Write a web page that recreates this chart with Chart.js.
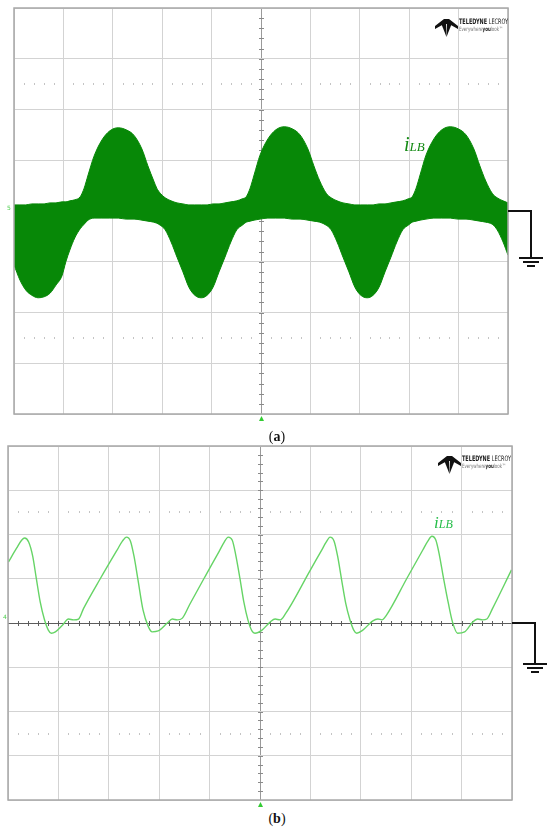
<!DOCTYPE html>
<html>
<head>
<meta charset="utf-8">
<script src="https://cdn.jsdelivr.net/npm/chart.js@4.4.0/dist/chart.umd.min.js"></script>
<style>
  html, body { margin: 0; padding: 0; background: #fff; }
  body { width: 550px; height: 828px; position: relative; overflow: hidden; }
  canvas { position: absolute; left: 0; }
  #chartA { top: 0; width: 550px; height: 422px; }
  #chartB { top: 440px; width: 550px; height: 370px; }
  .abs { position: absolute; white-space: nowrap; line-height: 1; }
  .lbl { font-family: 'Liberation Serif', 'DejaVu Serif', serif; font-style: italic; }
  .cap { font-family: 'Liberation Serif', 'DejaVu Serif', serif; font-size: 14px; color: #111; width: 60px; text-align: center; }
  .brand { font-family: 'Liberation Sans Narrow', 'DejaVu Sans Condensed', sans-serif; font-size: 7.5px; color: #1a1a1a; display: inline-block; transform-origin: left top; }
  .tag { font-family: 'Liberation Sans Narrow', 'DejaVu Sans Condensed', sans-serif; font-size: 6px; color: #777; display: inline-block; transform-origin: left top; }
  .tag b { color: #222; }
  .chm { font-family: 'DejaVu Sans', sans-serif; font-size: 6px; color: #4fcf4f; }
</style>
</head>
<body>
<canvas id="chartA" width="550" height="422"></canvas>
<canvas id="chartB" width="550" height="370"></canvas>

<!-- panel (a) texts -->
<div class="abs lbl" style="left:404px;top:134px;color:#138a13;"><span style="font-size:20px">i</span><span style="font-size:13px">LB</span></div>
<svg class="abs" style="left:435px;top:18px" width="23" height="20" viewBox="0 0 23 20">
  <path d="M0 8 L9 1 L14 1 L23 8 L23 11 L14 6 L9 6 L0 11 Z" fill="#111"/>
  <path d="M6 5 L11 5 L11.5 19 Z" fill="#111"/>
  <path d="M17 5 L12 5 L11.5 19 Z" fill="#111"/>
</svg>
<div class="abs brand" data-fit="49" style="left:459px;top:18px;"><b>TELEDYNE</b> LECROY</div>
<div class="abs tag" data-fit="44" style="left:459px;top:25.5px;">Everywhere<b>you</b>look™</div>
<div class="abs chm" style="left:7px;top:205px;">5</div>
<div class="abs cap" style="left:247px;top:430px;">(<b>a</b>)</div>

<!-- panel (b) texts -->
<div class="abs lbl" style="left:434px;top:514px;color:#24bd48;"><span style="font-size:17px">i</span><span style="font-size:12px">LB</span></div>
<svg class="abs" style="left:438px;top:455px" width="23" height="20" viewBox="0 0 23 20">
  <path d="M0 8 L9 1 L14 1 L23 8 L23 11 L14 6 L9 6 L0 11 Z" fill="#111"/>
  <path d="M6 5 L11 5 L11.5 19 Z" fill="#111"/>
  <path d="M17 5 L12 5 L11.5 19 Z" fill="#111"/>
</svg>
<div class="abs brand" data-fit="49" style="left:462px;top:455px;"><b>TELEDYNE</b> LECROY</div>
<div class="abs tag" data-fit="44" style="left:462px;top:462.5px;">Everywhere<b>you</b>look™</div>
<div class="abs chm" style="left:3px;top:614px;">4</div>
<div class="abs cap" style="left:247px;top:812px;">(<b>b</b>)</div>

<script>
'use strict';

// (a) envelope of the switched inductor current, screen divisions (x 0..10, y -4..4)
const xA = [
  0.00, 0.12, 0.24, 0.36, 0.49, 0.61, 0.73, 0.85, 0.97, 1.05,
  1.13, 1.23, 1.34, 1.42, 1.50, 1.62, 1.78, 1.94, 2.11,
  2.27, 2.43, 2.59, 2.71, 2.83, 2.89, 2.96, 3.06,
  3.18, 3.30, 3.42, 3.54, 3.66, 3.79, 3.91, 4.03, 4.15, 4.27, 4.39, 4.51,
  4.62, 4.70, 4.78, 4.86, 4.98, 5.14, 5.30, 5.47,
  5.63, 5.79, 5.95, 6.07, 6.19, 6.32, 6.42,
  6.54, 6.66, 6.78, 6.90, 7.02, 7.15, 7.27, 7.39, 7.51, 7.63, 7.75, 7.87,
  7.98, 8.06, 8.14, 8.22, 8.34, 8.50, 8.66, 8.83,
  8.99, 9.15, 9.31, 9.43, 9.55, 9.68, 9.78, 9.90, 10.00,
];
const upperA = [
  0.12, 0.12, 0.12, 0.14, 0.14, 0.14, 0.16, 0.16, 0.18, 0.18,
  0.20, 0.22, 0.28, 0.45, 0.71, 1.08, 1.40, 1.58, 1.64,
  1.60, 1.49, 1.22, 0.89, 0.59, 0.45, 0.35, 0.26,
  0.20, 0.16, 0.14, 0.12, 0.12, 0.12, 0.12, 0.14, 0.14, 0.16, 0.18, 0.20,
  0.24, 0.28, 0.45, 0.71, 1.10, 1.42, 1.60, 1.66,
  1.62, 1.50, 1.22, 0.89, 0.59, 0.35, 0.26,
  0.20, 0.16, 0.14, 0.12, 0.12, 0.12, 0.12, 0.14, 0.14, 0.16, 0.18, 0.20,
  0.24, 0.28, 0.45, 0.71, 1.10, 1.42, 1.60, 1.66,
  1.62, 1.50, 1.22, 0.89, 0.59, 0.35, 0.26, 0.20, 0.16,
];
const lowerA = [
  -1.06, -1.36, -1.56, -1.66, -1.71, -1.69, -1.62, -1.46, -1.28, -1.00,
  -0.77, -0.53, -0.35, -0.26, -0.18, -0.14, -0.14, -0.14, -0.14,
  -0.16, -0.16, -0.18, -0.20, -0.22, -0.24, -0.28, -0.37,
  -0.61, -0.91, -1.20, -1.50, -1.66, -1.71, -1.66, -1.50, -1.20, -0.91, -0.61, -0.37,
  -0.28, -0.22, -0.20, -0.18, -0.16, -0.14, -0.14, -0.14,
  -0.16, -0.16, -0.18, -0.20, -0.22, -0.28, -0.37,
  -0.61, -0.91, -1.20, -1.50, -1.66, -1.71, -1.66, -1.50, -1.20, -0.91, -0.61, -0.37,
  -0.28, -0.22, -0.20, -0.18, -0.16, -0.14, -0.14, -0.14,
  -0.16, -0.16, -0.18, -0.20, -0.22, -0.26, -0.37, -0.61, -0.87,
];

// (b) filtered inductor current, screen divisions
const xB = [
  0.01, 0.17, 0.27, 0.33, 0.41, 0.49, 0.56, 0.64, 0.72, 0.80, 0.86, 0.94, 1.08, 1.20, 1.30, 1.40,
  1.50, 1.83, 2.17, 2.27, 2.35, 2.43, 2.50, 2.58, 2.68, 2.78, 2.86, 2.98, 3.16, 3.26, 3.36, 3.46,
  3.61, 3.91, 4.19, 4.29, 4.37, 4.45, 4.52, 4.60, 4.68, 4.76, 4.84, 4.90, 5.04, 5.20, 5.30, 5.40,
  5.50, 5.99, 6.23, 6.31, 6.39, 6.47, 6.54, 6.62, 6.70, 6.78, 6.86, 6.92, 7.04, 7.24, 7.34, 7.42,
  7.51, 7.91, 8.23, 8.33, 8.41, 8.49, 8.56, 8.64, 8.74, 8.82, 8.92, 9.06, 9.22, 9.32, 9.42, 9.50,
  9.61, 9.99,
];
const yB = [
  1.38, 1.69, 1.87, 1.92, 1.83, 1.51, 1.02, 0.47, 0.09, -0.16, -0.23, -0.20, -0.05, 0.09, 0.07, 0.09,
  0.33, 1.00, 1.66, 1.85, 1.94, 1.85, 1.51, 0.97, 0.29, -0.07, -0.20, -0.18, 0.00, 0.09, 0.07, 0.11,
  0.43, 1.05, 1.62, 1.83, 1.94, 1.87, 1.53, 1.02, 0.47, 0.07, -0.18, -0.23, -0.16, 0.02, 0.09, 0.07,
  0.20, 1.18, 1.66, 1.82, 1.94, 1.85, 1.51, 0.97, 0.45, 0.09, -0.16, -0.23, -0.16, 0.05, 0.09, 0.07,
  0.18, 1.00, 1.65, 1.85, 1.96, 1.87, 1.53, 1.02, 0.43, 0.02, -0.23, -0.20, 0.02, 0.09, 0.07, 0.09,
  0.32, 1.20,
];

const xDivs = 10;
const yDivs = 8;

const toPts = (xs, ys) => xs.map((x, i) => ({ x, y: ys[i] }));

// scope screen furniture: dotted rows, axis ticks, frame, ground symbol, trigger mark
const scopeDecor = {
  id: 'scopeDecor',
  beforeDatasetsDraw(chart, args, opts) {
    const { ctx, chartArea: area, scales: { x, y } } = chart;
    const cx = Math.round(x.getPixelForValue(xDivs / 2));
    const cy = Math.round(y.getPixelForValue(0)) + 0.5;
    ctx.save();
    ctx.fillStyle = '#c4c4c4';
    [yDivs / 2 - 1.5, -(yDivs / 2 - 1.5)].forEach((v) => {
      const py = Math.round(y.getPixelForValue(v));
      for (let i = 1; i < xDivs * 5; i++) {
        if (i % 5 === 0) continue;
        ctx.fillRect(Math.round(x.getPixelForValue(i / 5)), py - 1, 1, 2);
      }
    });
    ctx.fillStyle = '#8a8a8a';
    for (let i = -yDivs * 5 / 2 + 1; i < yDivs * 5 / 2; i++) {
      ctx.fillRect(cx - 2, Math.round(y.getPixelForValue(i / 5)), 5, 1);
    }
    if (opts.hAxis) {
      ctx.strokeStyle = '#5c5c5c';
      ctx.lineWidth = 1;
      ctx.beginPath();
      ctx.moveTo(area.left, cy);
      ctx.lineTo(area.right, cy);
      ctx.stroke();
      ctx.fillStyle = '#5c5c5c';
      for (let i = 1; i < xDivs * 5; i++) {
        ctx.fillRect(Math.round(x.getPixelForValue(i / 5)), cy - 2.5, 1, 5);
      }
    }
    ctx.restore();
  },
  afterDraw(chart, args, opts) {
    const { ctx, chartArea: area, scales: { x, y } } = chart;
    const cx = Math.round(x.getPixelForValue(xDivs / 2)) + 0.5;
    ctx.save();
    ctx.strokeStyle = '#a8a8a8';
    ctx.lineWidth = 1.5;
    ctx.strokeRect(area.left, area.top, area.right - area.left, area.bottom - area.top);

    const gy = Math.round(y.getPixelForValue(0));
    const gb = Math.round(y.getPixelForValue(-0.92));
    const gx = Math.round(area.right) + 23;
    ctx.strokeStyle = '#111';
    ctx.lineWidth = 2;
    ctx.beginPath();
    ctx.moveTo(area.right, gy);
    ctx.lineTo(gx, gy);
    ctx.lineTo(gx, gb);
    ctx.stroke();
    [[12, 0], [8, 4], [4, 8]].forEach(([hw, dy]) => {
      ctx.beginPath();
      ctx.moveTo(gx - hw, gb + dy);
      ctx.lineTo(gx + hw, gb + dy);
      ctx.stroke();
    });

    ctx.fillStyle = '#33cc33';
    ctx.beginPath();
    ctx.moveTo(cx - 2.5, area.bottom + 7);
    ctx.lineTo(cx + 2.5, area.bottom + 7);
    ctx.lineTo(cx, area.bottom + 2);
    ctx.closePath();
    ctx.fill();
    ctx.restore();
  },
};

function scopeScales(centerDark) {
  return {
    x: {
      type: 'linear', min: 0, max: xDivs,
      ticks: { display: false, stepSize: 1 },
      grid: { drawTicks: false, color: (c) => (centerDark && c.tick.value === xDivs / 2 ? '#9a9a9a' : '#d3d3d3') },
      border: { display: false },
    },
    y: {
      type: 'linear', min: -yDivs / 2, max: yDivs / 2,
      ticks: { display: false, stepSize: 1 },
      grid: { drawTicks: false, color: '#d3d3d3' },
      border: { display: false },
    },
  };
}

const greenA = '#078807';
new Chart(document.getElementById('chartA'), {
  type: 'line',
  data: {
    datasets: [
      { data: toPts(xA, upperA), borderColor: greenA, backgroundColor: greenA, borderWidth: 1, pointRadius: 0, fill: '+1', cubicInterpolationMode: 'monotone' },
      { data: toPts(xA, lowerA), borderColor: greenA, borderWidth: 1, pointRadius: 0, fill: false, cubicInterpolationMode: 'monotone' },
    ],
  },
  options: {
    responsive: false,
    animation: false,
    layout: { padding: { left: 14, right: 42, top: 8, bottom: 8 } },
    plugins: { legend: { display: false }, tooltip: { enabled: false }, scopeDecor: { hAxis: false } },
    scales: scopeScales(true),
  },
  plugins: [scopeDecor],
});

new Chart(document.getElementById('chartB'), {
  type: 'line',
  data: {
    datasets: [
      { data: toPts(xB, yB), borderColor: '#66d466', borderWidth: 1.4, pointRadius: 0, fill: false, cubicInterpolationMode: 'monotone' },
    ],
  },
  options: {
    responsive: false,
    animation: false,
    layout: { padding: { left: 8, right: 38, top: 6, bottom: 10 } },
    plugins: { legend: { display: false }, tooltip: { enabled: false }, scopeDecor: { hAxis: true } },
    scales: scopeScales(true),
  },
  plugins: [scopeDecor],
});

document.querySelectorAll('[data-fit]').forEach((el) => {
  const w = el.getBoundingClientRect().width;
  el.style.transform = `scaleX(${el.dataset.fit / w})`;
});
</script>
</body>
</html>
